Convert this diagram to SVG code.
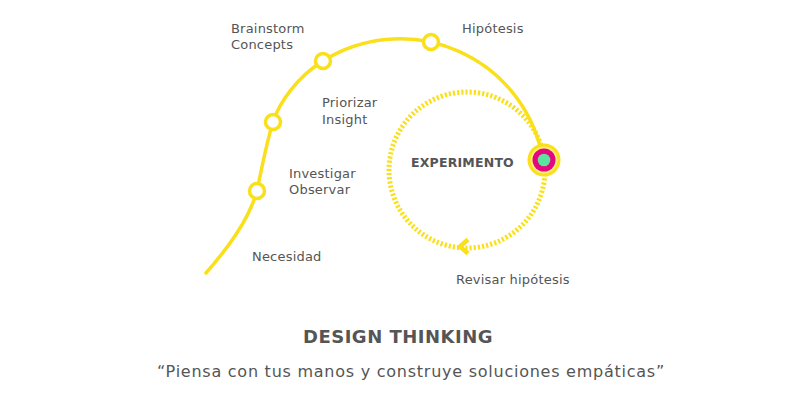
<svg xmlns="http://www.w3.org/2000/svg" width="800" height="400" viewBox="0 0 800 400">
<style>
.lbl{font-family:"DejaVu Sans","Noto Sans",sans-serif;font-size:13px;letter-spacing:0.2px;fill:#555;}
.bold{font-weight:700;}
.line{fill:none;stroke:#f9e01b;stroke-width:3.5;stroke-linecap:round;}
.dash{fill:none;stroke:#f9e01b;stroke-width:5;stroke-dasharray:2.2 2;}
.step{fill:#fff;stroke:#f9e01b;stroke-width:3.5;}
</style>
<rect width="800" height="400" fill="#fff"/>
<g id="connectors">
<path class="line" d="M206,273 C226,250 248,222 257,191 C261,171 267,141 273,122 C279,103 297,77 323,61 A145,145 0 0 1 543,160"/>
<circle class="dash" cx="467" cy="170" r="78"/>
<path d="M468,239.5 L460,246.5 L468,253.5" fill="none" stroke="#f9e01b" stroke-width="4.5"/>
</g>
<g id="necesidad"><text class="lbl" x="252" y="261">Necesidad</text></g>
<g id="investigar"><circle class="step" cx="257" cy="191" r="7.5"/><text class="lbl" x="289" y="178">Investigar</text><text class="lbl" x="289" y="194">Observar</text></g>
<g id="priorizar"><circle class="step" cx="273" cy="122" r="7.5"/><text class="lbl" x="322" y="107">Priorizar</text><text class="lbl" x="322" y="124">Insight</text></g>
<g id="brainstorm"><circle class="step" cx="323" cy="61" r="7.5"/><text class="lbl" x="231" y="33">Brainstorm</text><text class="lbl" x="231" y="49">Concepts</text></g>
<g id="hipotesis"><circle class="step" cx="431" cy="42" r="7.5"/><text class="lbl" x="462" y="33">Hipótesis</text></g>
<g id="experimento">
<circle cx="544" cy="160" r="16.5" fill="#f9e01b"/>
<circle cx="544" cy="160" r="13.5" fill="#fdee7a"/>
<circle cx="544" cy="160" r="11.5" fill="#e5077f"/>
<circle cx="544" cy="160" r="6.3" fill="#5be3a0"/>
<text class="lbl bold" x="411" y="167" style="font-size:12.5px">EXPERIMENTO</text>
</g>
<g id="revisar"><text class="lbl" x="456" y="284">Revisar hipótesis</text></g>
<g id="title">
<text class="lbl bold" x="398" y="343" text-anchor="middle" style="font-size:18px;letter-spacing:0.5px">DESIGN THINKING</text>
<text class="lbl" x="411" y="377" text-anchor="middle" style="font-size:16px;letter-spacing:0.75px">“Piensa con tus manos y construye soluciones empáticas”</text>
</g>
</svg>
